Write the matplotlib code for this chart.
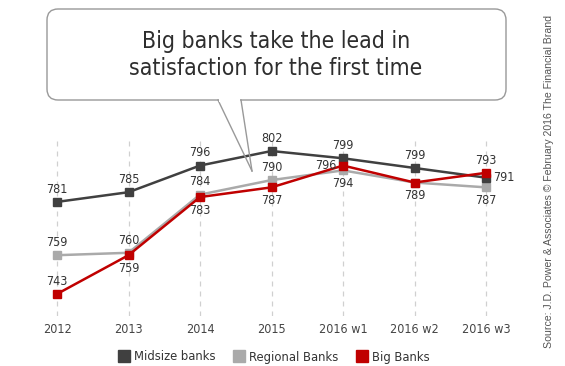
import matplotlib.pyplot as plt
from matplotlib.patches import FancyBboxPatch, Rectangle
from matplotlib.lines import Line2D
from matplotlib.transforms import IdentityTransform

# data
years = ['2012', '2013', '2014', '2015', '2016 w1', '2016 w2', '2016 w3']
midsize = [781, 785, 796, 802, 799, 795, 791]
regional = [759, 760, 784, 790, 794, 789, 787]
big = [743, 759, 783, 787, 796, 789, 793]
midsize_lbl = ['781', '785', '796', '802', '799', '799', '791']
regional_lbl = ['759', '760', '784', '790', '794', '', '787']
big_lbl = ['743', '759', '783', '787', '796', '789', '793']
midsize_pos = ['up', 'up', 'up', 'up', 'up', 'up', 'right']
regional_pos = ['up', 'up', 'up', 'up', 'down', 'down', 'down']
big_pos = ['up', 'down', 'down', 'down', 'left', 'down', 'up']

plt.rcParams['font.family'] = ['DejaVu Sans']
plt.rcParams['font.stretch'] = 'condensed'

W, H = 565, 366
fig = plt.figure(figsize=(W / 100, H / 100), dpi=100)

# axes placed in pixel terms
top, bottom, left, right = 140, 316, 20, 520
ax = fig.add_axes([left / W, 1 - bottom / H, (right - left) / W, (bottom - top) / H])
ax.set_xlim((left - 57) / 71.5, (right - 57) / 71.5)
ax.set_ylim(743 - (bottom - 294) / 2.42, 802 + (151 - top) / 2.42)
for s in ax.spines.values():
    s.set_visible(False)
ax.set_yticks([])
x = list(range(len(years)))
ax.set_xticks(x)
ax.set_xticklabels(years, fontsize=9, color='#444444')
ax.tick_params(length=0, pad=5)
for xi in x:
    ax.axvline(xi, color='#d0d0d0', lw=0.9, ls=(0, (4, 4)), zorder=0)

series = [
    ('Regional Banks', regional, regional_lbl, regional_pos, '#aaaaaa', 2),
    ('Midsize banks', midsize, midsize_lbl, midsize_pos, '#404040', 3),
    ('Big Banks', big, big_lbl, big_pos, '#c00000', 4),
]
offsets = {'up': (0, 4.5, 'center', 'bottom'), 'down': (0, -5, 'center', 'top'),
           'left': (-5, 0, 'right', 'center'), 'right': (5, 0, 'left', 'center')}
for name, vals, lbls, pos, col, z in series:
    ax.plot(x, vals, color=col, lw=1.8, marker='s', ms=6, zorder=z)
    for xi, v, t, p in zip(x, vals, lbls, pos):
        if not t:
            continue
        dx, dy, ha, va = offsets[p]
        ax.annotate(t, (xi, v), xytext=(dx, dy), textcoords='offset points',
                    ha=ha, va=va, fontsize=9, color='#333333', zorder=6)

# legend
handles = [Line2D([], [], color=c, marker='s', ls='none', ms=9)
           for c in ['#404040', '#aaaaaa', '#c00000']]
fig.legend(handles, ['Midsize banks', 'Regional Banks', 'Big Banks'],
           loc='center', bbox_to_anchor=(273 / W, 1 - 357 / H), ncol=3,
           frameon=False, fontsize=9.3, handletextpad=0.2, columnspacing=1.2,
           handlelength=1.2, labelcolor='#333333')

# callout bubble (pixel coordinates, origin bottom-left)
ident = IdentityTransform()
bx0, bx1, by0, by1 = 47, 506, 9, 100
box = FancyBboxPatch((bx0, H - by1), bx1 - bx0, by1 - by0,
                     boxstyle='round,pad=0,rounding_size=11',
                     transform=ident, facecolor='white', edgecolor='#999999',
                     lw=1.0, zorder=10)
fig.patches.append(box)
fig.patches.append(Rectangle((219, H - by1 - 2), 21, 4, transform=ident,
                             facecolor='white', edgecolor='none', zorder=11))
for x0 in (218, 241):
    fig.lines.append(Line2D([x0, 252], [H - by1, H - 171], transform=ident,
                            color='#999999', lw=1.0, zorder=11))
fig.text(276 / W, 1 - 55 / H, 'Big banks take the lead in\nsatisfaction for the first time',
         ha='center', va='center', fontsize=16.5, color='#2e2e2e',
         linespacing=1.2, zorder=12)

fig.text(549 / W, 1 - 181 / H,
         'Source: J.D. Power & Associates \u00a9 February 2016 The Financial Brand',
         rotation=90, ha='center', va='center', fontsize=7.6, color='#555555',
         family=['Liberation Sans', 'DejaVu Sans'], stretch='normal')

fig.savefig('out.png', dpi=100)
